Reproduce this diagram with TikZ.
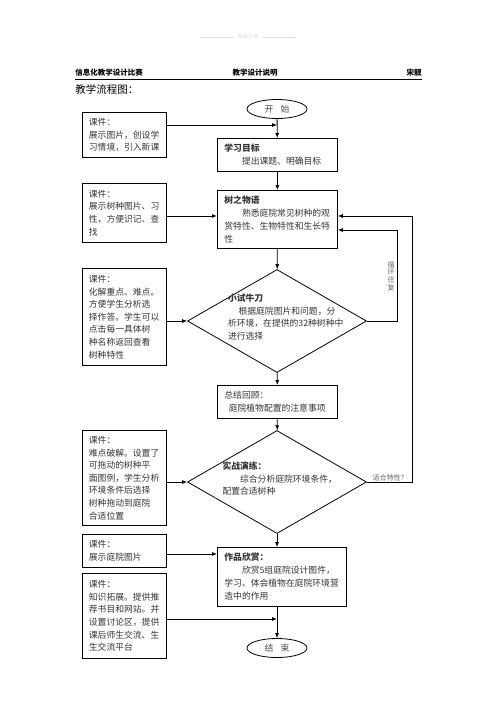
\documentclass[tikz,border=0pt]{standalone}
\usepackage{fontspec}
\setmainfont{Noto Sans CJK SC}
\usetikzlibrary{shapes.geometric,arrows.meta,calc}

\begin{document}
\begin{tikzpicture}[x=1pt, y=-1pt, line width=.8pt,
	kj/.style={draw, anchor=north west, align=left, inner xsep=6.5pt, inner ysep=0pt, text width=71pt, font=\fontsize{8.8}{12.6}\selectfont, text=black!80},
	stepbox/.style={draw, anchor=north west, align=left, inner xsep=7pt, inner ysep=0pt, font=\fontsize{8.8}{13}\selectfont, text=black!80},
	term/.style={draw, ellipse, minimum width=60pt, minimum height=19pt, inner sep=0pt, font=\fontsize{8.8}{10}\selectfont, text=black!70},
	choice/.style={draw, diamond, minimum width=179pt, minimum height=103pt, inner sep=0pt},
	choicetext/.style={align=left, inner sep=0pt, font=\fontsize{8.8}{12.5}\selectfont, text=black!80},
	arr/.style={-{Latex[length=5pt,width=4pt]}},
	note/.style={inner sep=0pt, font=\fontsize{7}{7.6}\selectfont, text=black!60}]
			\useasboundingbox (0,0) rectangle (496,702);
			\draw[gray!25, line width=.5pt] (200,37) -- (234,37) (262,37) -- (295,37);
			\node[inner sep=0pt, text=gray!30, font=\fontsize{5}{6}\selectfont] (wm) at (248,37) {精品文档};
			\node[anchor=west, inner sep=0pt, font=\bfseries\fontsize{7.5}{9}\selectfont] (hleft) at (75,73) {信息化教学设计比赛};
			\node[inner sep=0pt, font=\bfseries\fontsize{7.5}{9}\selectfont] (hmid) at (255,73) {教学设计说明};
			\node[anchor=east, inner sep=0pt, font=\bfseries\fontsize{7.5}{9}\selectfont] (hright) at (422,73) {宋靓};
			\draw (75,79) -- (422,79);
			\node[anchor=west, inner sep=0pt, font=\fontsize{10.5}{12}\selectfont] (title) at (75,89) {教学流程图：};
			\node[term] (start) at (277,109) {开\hspace{.8em}始};
			\node[stepbox, text width=106pt, minimum height=33pt] (goal) at (217,138) {{\bfseries 学习目标}\\\hspace{2em}提出课题、明确目标};
			\node[stepbox, text width=106pt, minimum height=58pt] (tree) at (217,190) {{\bfseries 树之物语}\\\hspace{2em}熟悉庭院常见树种的观\\赏特性、生物特性和生长特\\性};
			\node[choice] (try) at (277,321) {};
			\node[choicetext, text width=118pt] (trytext) at ($(try)+(10,-4)$) {{\bfseries 小试牛刀}\\\hspace{1.2em}根据庭院图片和问题，分\\析环境，在提供的32种树种中\\进行选择};
			\node[stepbox, text width=106pt, minimum height=33pt] (sum) at (217,385) {总结回顾：\\\hspace{.5em}庭院植物配置的注意事项};
			\node[choice] (fight) at (277,482) {};
			\node[choicetext, text width=116pt] (fighttext) at ($(fight)+(3.5,-3)$) {{\bfseries 实战演练：}\\\hspace{2em}综合分析庭院环境条件，\\配置合适树种};
			\node[stepbox, text width=115pt, minimum height=59pt] (work) at (217,547) {{\bfseries 作品欣赏：}\\\hspace{2em}欣赏5组庭院设计图件，\\学习、体会植物在庭院环境营\\造中的作用};
			\node[term] (end) at (277,648) {结\hspace{.8em}束};
			\node[kj, minimum height=45pt] (kj1) at (82,112) {课件：\\展示图片，创设学\\习情境，引入新课};
			\node[kj, minimum height=59pt] (kj2) at (82,183) {课件：\\展示树种图片、习\\性，方便识记、查\\找};
			\node[kj, minimum height=97pt] (kj3) at (82,268) {课件：\\化解重点、难点。\\方便学生分析选\\择作答。学生可以\\点击每一具体树\\种名称返回查看\\树种特性};
			\node[kj, minimum height=95pt] (kj4) at (82,430) {课件：\\难点破解。设置了\\可拖动的树种平\\面图例，学生分析\\环境条件后选择\\树种拖动到庭院\\合适位置};
			\node[kj, minimum height=33pt] (kj5) at (82,534) {课件：\\展示庭院图片};
			\node[kj, minimum height=85pt] (kj6) at (82,573) {课件：\\知识拓展。提供推\\荐书目和网站。并\\设置讨论区，提供\\课后师生交流、生\\生交流平台};
			\coordinate (c1) at (277,125);
			\coordinate (c2) at (217,216);
			\coordinate (c5) at (217,554);
			\coordinate (c6) at (277,619);
			\coordinate (lp1) at (397,230);
			\coordinate (lp2) at (412,216);
			\draw[arr] (start) -- (goal);
			\draw[arr] (kj1.east |- c1) -- (c1);
			\draw[arr] (goal) -- (tree);
			\draw[arr] (kj2.east |- c2) -- (c2);
			\draw[arr] (tree) -- (try);
			\draw[arr] (kj3.east |- try) -- (try.west);
			\draw[arr] (try) -- (sum);
			\draw[arr] (sum) -- (fight);
			\draw[arr] (kj4.east |- fight) -- (fight.west);
			\draw[arr] (fight.south) -- (fight.south |- work.north);
			\draw[arr] (kj5.east |- c5) -- (c5);
			\draw[arr] (kj6.east |- c6) -- (c6);
			\draw[arr] (work.south -| end) -- (end);
			\draw[arr] (try.east) -| (lp1) -- (lp1 -| tree.east);
			\draw[arr] (fight.east) -| (lp2) -- (lp2 -| tree.east);
			\node[note, align=center] (loop) at (391,276) {循\\环\\往\\复};
			\node[note] (fit) at (390,478) {适合特性？};
		\end{tikzpicture}
\end{document}
